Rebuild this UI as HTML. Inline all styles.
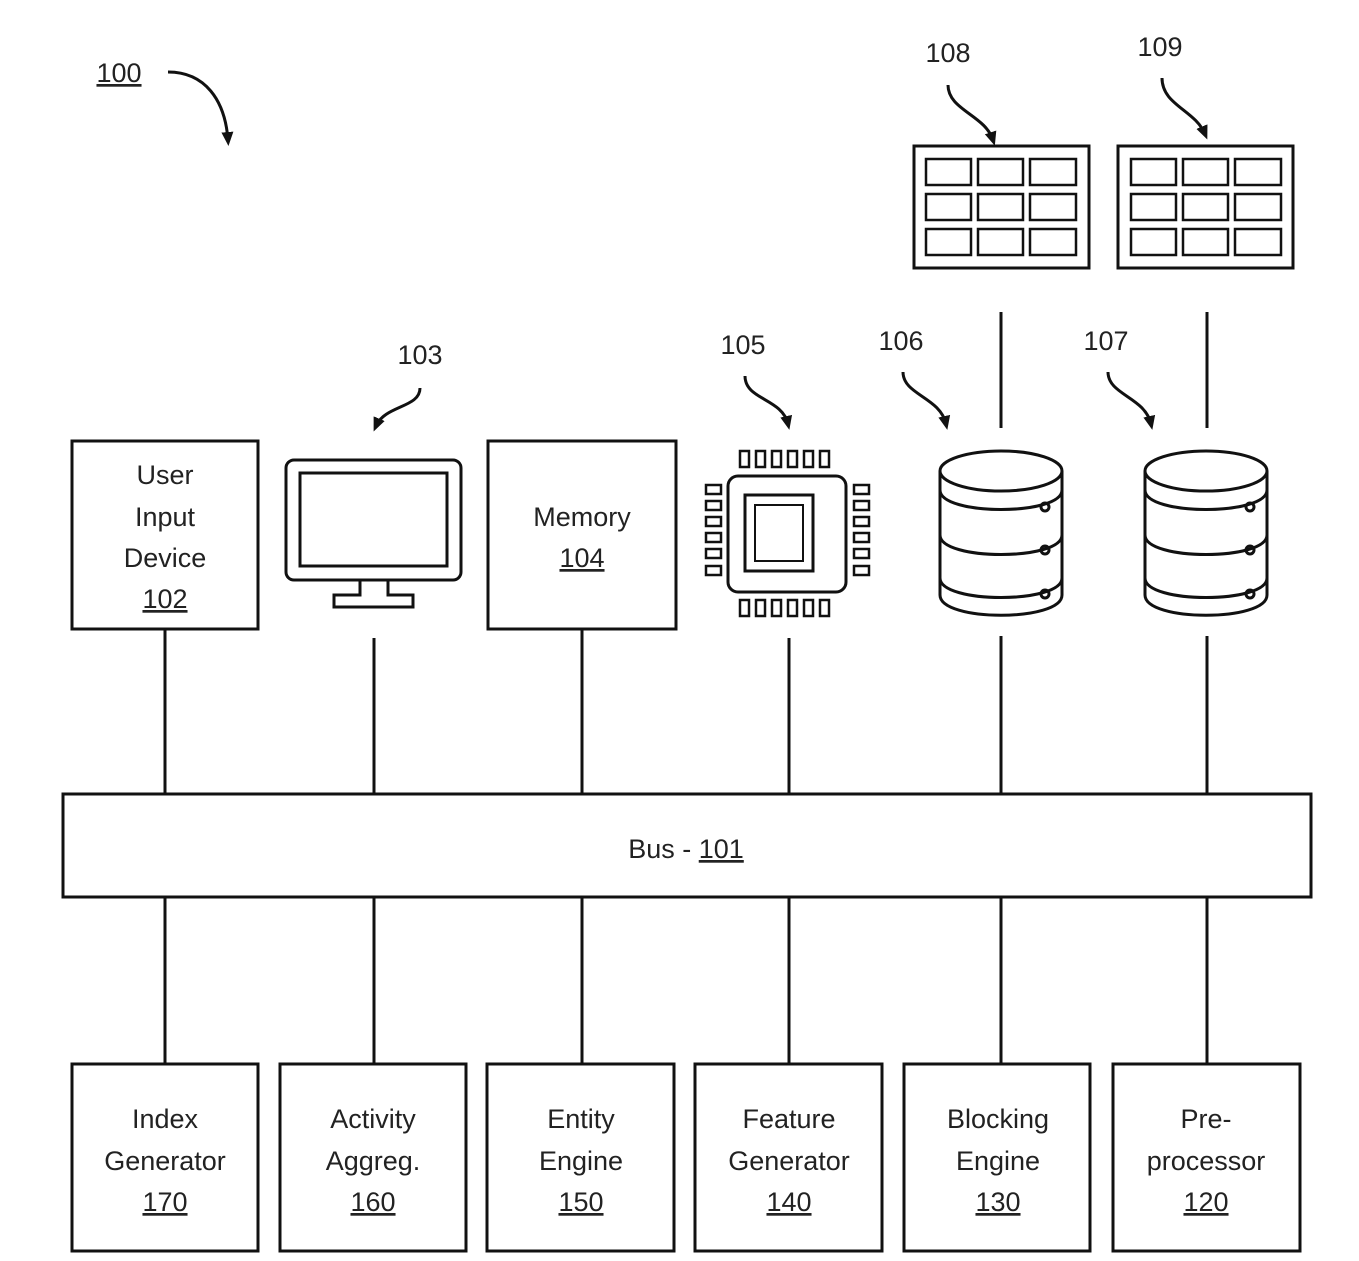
<!DOCTYPE html>
<html><head><style>body{margin:0;background:#fff}svg{display:block}text{font-family:"Liberation Sans",sans-serif;font-size:27px;fill:#222}</style></head><body>
<svg width="1359" height="1261" viewBox="0 0 1359 1261" xmlns="http://www.w3.org/2000/svg">
<defs><marker id="a" markerUnits="userSpaceOnUse" markerWidth="14" markerHeight="14" refX="8" refY="7" orient="auto"><path d="M0,1 L14,7 L0,13 Z" fill="#111"/></marker></defs>
<g fill="none" stroke="#111" stroke-width="3">
<path d="M168,72 C205,72 225,100 228,140" marker-end="url(#a)"/>
<path d="M948,85 C948,110 985,115 993,140" marker-end="url(#a)"/>
<path d="M1162,78 C1162,105 1195,110 1205,134" marker-end="url(#a)"/>
<path d="M420,388 C420,408 385,405 376,426" marker-end="url(#a)"/>
<path d="M745,376 C745,400 782,398 788,424" marker-end="url(#a)"/>
<path d="M903,372 C903,395 940,397 946,424" marker-end="url(#a)"/>
<path d="M1108,372 C1108,395 1145,397 1151,424" marker-end="url(#a)"/>
<rect x="914" y="146" width="175" height="122"/>
<rect x="1118" y="146" width="175" height="122"/>
<g stroke-width="2.5">
<rect x="926" y="159" width="45" height="26"/><rect x="978" y="159" width="45" height="26"/><rect x="1030" y="159" width="46" height="26"/>
<rect x="926" y="194" width="45" height="26"/><rect x="978" y="194" width="45" height="26"/><rect x="1030" y="194" width="46" height="26"/>
<rect x="926" y="229" width="45" height="26"/><rect x="978" y="229" width="45" height="26"/><rect x="1030" y="229" width="46" height="26"/>
<rect x="1131" y="159" width="45" height="26"/><rect x="1183" y="159" width="45" height="26"/><rect x="1235" y="159" width="46" height="26"/>
<rect x="1131" y="194" width="45" height="26"/><rect x="1183" y="194" width="45" height="26"/><rect x="1235" y="194" width="46" height="26"/>
<rect x="1131" y="229" width="45" height="26"/><rect x="1183" y="229" width="45" height="26"/><rect x="1235" y="229" width="46" height="26"/>
</g>
<line x1="1001" y1="312" x2="1001" y2="428"/><line x1="1207" y1="312" x2="1207" y2="428"/>
<g id="db">
<ellipse cx="1001" cy="471" rx="61" ry="20"/>
<path d="M940,471 V595 C940,622 1062,622 1062,595 V471"/>
<path d="M940,490 C940,516 1062,516 1062,490"/>
<path d="M940,535 C940,561 1062,561 1062,535"/>
<path d="M940,578 C940,604 1062,604 1062,578"/>
<circle cx="1045" cy="507" r="4"/><circle cx="1045" cy="550" r="4"/><circle cx="1045" cy="594" r="4"/>
</g>
<use href="#db" x="205"/>
<rect x="728" y="476" width="118" height="116" rx="10"/>
<rect x="745" y="495" width="68" height="76"/>
<rect x="755" y="505" width="48" height="56" stroke-width="2"/>
<g stroke-width="2.5">
<rect x="740" y="451" width="9" height="16"/><rect x="756" y="451" width="9" height="16"/><rect x="772" y="451" width="9" height="16"/><rect x="788" y="451" width="9" height="16"/><rect x="804" y="451" width="9" height="16"/><rect x="820" y="451" width="9" height="16"/>
<rect x="740" y="600" width="9" height="16"/><rect x="756" y="600" width="9" height="16"/><rect x="772" y="600" width="9" height="16"/><rect x="788" y="600" width="9" height="16"/><rect x="804" y="600" width="9" height="16"/><rect x="820" y="600" width="9" height="16"/>
<rect x="706" y="485" width="15" height="9"/><rect x="706" y="501" width="15" height="9"/><rect x="706" y="517" width="15" height="9"/><rect x="706" y="533" width="15" height="9"/><rect x="706" y="549" width="15" height="9"/><rect x="706" y="566" width="15" height="9"/>
<rect x="854" y="485" width="15" height="9"/><rect x="854" y="501" width="15" height="9"/><rect x="854" y="517" width="15" height="9"/><rect x="854" y="533" width="15" height="9"/><rect x="854" y="549" width="15" height="9"/><rect x="854" y="566" width="15" height="9"/>
</g>
<rect x="286" y="460" width="175" height="120" rx="8"/>
<rect x="300" y="473" width="147" height="93"/>
<path d="M360,580 V595 H334 V607 H413 V595 H388 V580"/>
<rect x="72" y="441" width="186" height="188"/>
<rect x="488" y="441" width="188" height="188"/>
<rect x="63" y="794" width="1248" height="103"/>
<rect x="72" y="1064" width="186" height="187"/>
<rect x="280" y="1064" width="186" height="187"/>
<rect x="487" y="1064" width="187" height="187"/>
<rect x="695" y="1064" width="187" height="187"/>
<rect x="904" y="1064" width="186" height="187"/>
<rect x="1113" y="1064" width="187" height="187"/>
<path d="M165,629V794M374,638V794M582,629V794M789,638V794M1001,636V794M1207,636V794"/>
<path d="M165,897V1064M374,897V1064M582,897V1064M789,897V1064M1001,897V1064M1207,897V1064"/>
</g>
<g text-anchor="middle">
<text x="119" y="82" text-decoration="underline">100</text>
<text x="948" y="62">108</text><text x="1160" y="56">109</text>
<text x="420" y="364">103</text><text x="743" y="354">105</text>
<text x="901" y="350">106</text><text x="1106" y="350">107</text>
<text x="165" y="484">User</text><text x="165" y="526">Input</text><text x="165" y="567">Device</text><text x="165" y="608" text-decoration="underline">102</text>
<text x="582" y="526">Memory</text><text x="582" y="567" text-decoration="underline">104</text>
<text x="686" y="858">Bus - <tspan text-decoration="underline">101</tspan></text>
<text x="165" y="1128">Index</text><text x="165" y="1170">Generator</text><text x="165" y="1211" text-decoration="underline">170</text>
<text x="373" y="1128">Activity</text><text x="373" y="1170">Aggreg.</text><text x="373" y="1211" text-decoration="underline">160</text>
<text x="581" y="1128">Entity</text><text x="581" y="1170">Engine</text><text x="581" y="1211" text-decoration="underline">150</text>
<text x="789" y="1128">Feature</text><text x="789" y="1170">Generator</text><text x="789" y="1211" text-decoration="underline">140</text>
<text x="998" y="1128">Blocking</text><text x="998" y="1170">Engine</text><text x="998" y="1211" text-decoration="underline">130</text>
<text x="1206" y="1128">Pre-</text><text x="1206" y="1170">processor</text><text x="1206" y="1211" text-decoration="underline">120</text>
</g>
</svg>
</body></html>
